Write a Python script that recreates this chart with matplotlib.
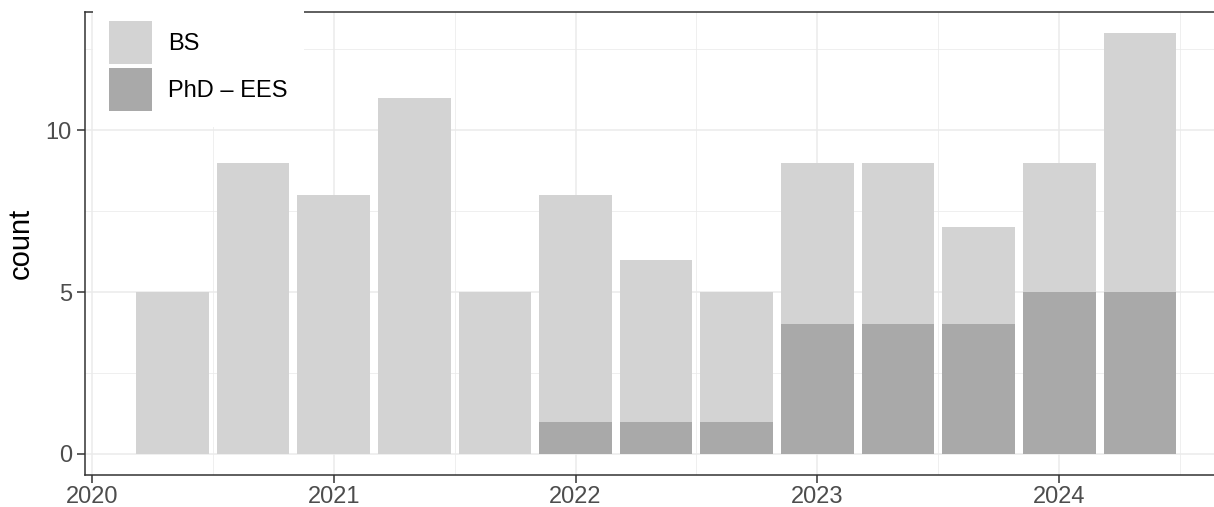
import matplotlib
matplotlib.use("Agg")
import matplotlib.pyplot as plt
from matplotlib.patches import Patch

plt.rcParams['font.family'] = ['Liberation Sans', 'DejaVu Sans']

# Bars every four months (year-month of each bin)
periods = ["2020-05", "2020-09", "2021-01", "2021-05", "2021-09", "2022-01", "2022-05",
           "2022-09", "2023-01", "2023-05", "2023-09", "2024-01", "2024-05"]
phd_counts = [0, 0, 0, 0, 0, 1, 1, 1, 4, 4, 4, 5, 5]
bs_counts = [5, 9, 8, 11, 5, 7, 5, 4, 5, 5, 3, 4, 8]
year_ticks = [2020, 2021, 2022, 2023, 2024]
minor_ticks = [2020.5, 2021.5, 2022.5, 2023.5, 2024.5]

x = [int(p[:4]) + (int(p[5:]) - 1) / 12 for p in periods]

fig = plt.figure(figsize=(12.14, 5.07), dpi=100)
ax = fig.add_axes([85 / 1214, 32 / 507, (1228.6 - 85) / 1214, 463 / 507])

# gridlines (ggplot theme_bw style)
for v in [0, 5, 10]:
    ax.axhline(v, color='#EBEBEB', lw=1.1, zorder=0)
for v in [2.5, 7.5, 12.5]:
    ax.axhline(v, color='#EBEBEB', lw=0.55, zorder=0)
for v in year_ticks:
    ax.axvline(v, color='#EBEBEB', lw=1.1, zorder=0)
for v in minor_ticks:
    ax.axvline(v, color='#EBEBEB', lw=0.55, zorder=0)

ax.bar(x, phd_counts, width=0.3, color='#A9A9A9', linewidth=0, zorder=1)
ax.bar(x, bs_counts, width=0.3, bottom=phd_counts, color='#D3D3D3', linewidth=0, zorder=1)

ax.set_xlim(2019.972, 2024.70)
ax.set_ylim(-0.65, 13.65)
ax.set_xticks(year_ticks)
ax.set_xticklabels([str(y) for y in year_ticks])
ax.set_yticks([0, 5, 10])
ax.tick_params(axis='both', length=5.5, width=1.1, color='#333333',
               labelcolor='#4D4D4D', labelsize=17, pad=4)
ax.tick_params(axis='x', pad=2.5)
ax.set_ylabel('count', fontsize=21, labelpad=8)

for s in ax.spines.values():
    s.set_color('#333333')
    s.set_linewidth(1.1)
ax.spines['right'].set_visible(False)

handles = [Patch(facecolor='#D3D3D3', edgecolor='none', label='BS'),
           Patch(facecolor='#A9A9A9', edgecolor='none', label='PhD – EES')]
leg = ax.legend(handles=handles, loc='upper left', bbox_to_anchor=(93 / 1214, 1 - 5 / 507),
                bbox_transform=fig.transFigure, borderaxespad=0, fontsize=17,
                handlelength=1.82, handleheight=2.42, handletextpad=0.68,
                labelspacing=0.17, borderpad=0.68, frameon=True, fancybox=False)
leg.get_frame().set_facecolor('white')
leg.get_frame().set_edgecolor('none')
leg.get_frame().set_alpha(1)
leg.set_zorder(10)

fig.savefig('out.png', dpi=100)
